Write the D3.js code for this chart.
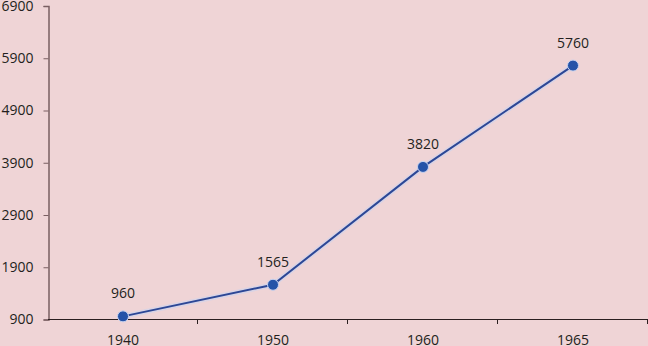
<!DOCTYPE html>
<html>
<head>
<meta charset="utf-8">
<script src="https://cdn.jsdelivr.net/npm/d3@7"></script>
<style>
  body { margin: 0; background: #efd4d6; }
  svg { display: block; }
  text { font-family: "Open Sans", sans-serif; fill: #231f20; }
</style>
</head>
<body>
<div id="chart"></div>
<script>
let years = ["1940", "1950", "1960", "1965"];
let values = [960, 1565, 3820, 5760];
let yTicks = [900, 1900, 2900, 3900, 4900, 5900, 6900];

let width = 648;
let height = 346;

let svg = d3.select("#chart")
    .append("svg")
    .attr("width", width)
    .attr("height", height);

svg.append("rect")
    .attr("width", width)
    .attr("height", height)
    .attr("fill", "#efd4d6");

let x = d3.scaleBand()
    .domain(years)
    .range([48, 648]);

let y = d3.scaleLinear()
    .domain([900, 6900])
    .range([319.5, 6]);

// y axis
let yAxis = svg.append("g")
    .attr("transform", "translate(48.5,0)")
    .call(d3.axisLeft(y).tickValues(yTicks).tickSize(5).tickPadding(10).tickFormat(d3.format("d")));
yAxis.select(".domain").attr("stroke", "#7a5f62").attr("stroke-width", 1.5);
yAxis.selectAll(".tick line").attr("stroke", "#7a5f62");
yAxis.selectAll(".tick text").style("font-size", "14px").attr("fill", "#231f20");

// x axis
let xAxis = svg.append("g")
    .attr("transform", "translate(0,319.5)")
    .call(d3.axisBottom(x).tickSize(0).tickPadding(16));
xAxis.select(".domain").attr("stroke", "#2a1f20").attr("d", "M48,0H648");
xAxis.selectAll(".tick text").style("font-size", "14px").attr("fill", "#231f20");

// category divider ticks
svg.append("g")
    .selectAll("line")
    .data(years)
    .enter()
    .append("line")
    .attr("x1", d => x(d) + x.bandwidth() - 0.5)
    .attr("x2", d => x(d) + x.bandwidth() - 0.5)
    .attr("y1", 319.5)
    .attr("y2", 324)
    .attr("stroke", "#2a1f20");

let pts = years.map((d, i) => [x(d) + x.bandwidth() / 2, y(values[i])]);

let line = d3.line();

// soft halo under the line
svg.append("path")
    .attr("d", line(pts))
    .attr("fill", "none")
    .attr("stroke", "#c9d3f0")
    .attr("stroke-width", 5)
    .attr("stroke-opacity", 0.6);

svg.append("path")
    .attr("d", line(pts))
    .attr("fill", "none")
    .attr("stroke", "#2c4796")
    .attr("stroke-width", 2);

svg.selectAll(".dot")
    .data(pts)
    .enter()
    .append("circle")
    .attr("class", "dot")
    .attr("cx", d => d[0])
    .attr("cy", d => d[1])
    .attr("r", 5.5)
    .attr("fill", "#2553a8")
    .attr("stroke", "#c9d3f0")
    .attr("stroke-width", 1);

svg.selectAll(".lbl")
    .data(pts)
    .enter()
    .append("text")
    .attr("class", "lbl")
    .attr("x", d => d[0])
    .attr("y", d => d[1] - 18)
    .attr("text-anchor", "middle")
    .style("font-size", "14px")
    .text((d, i) => values[i]);
</script>
</body>
</html>
